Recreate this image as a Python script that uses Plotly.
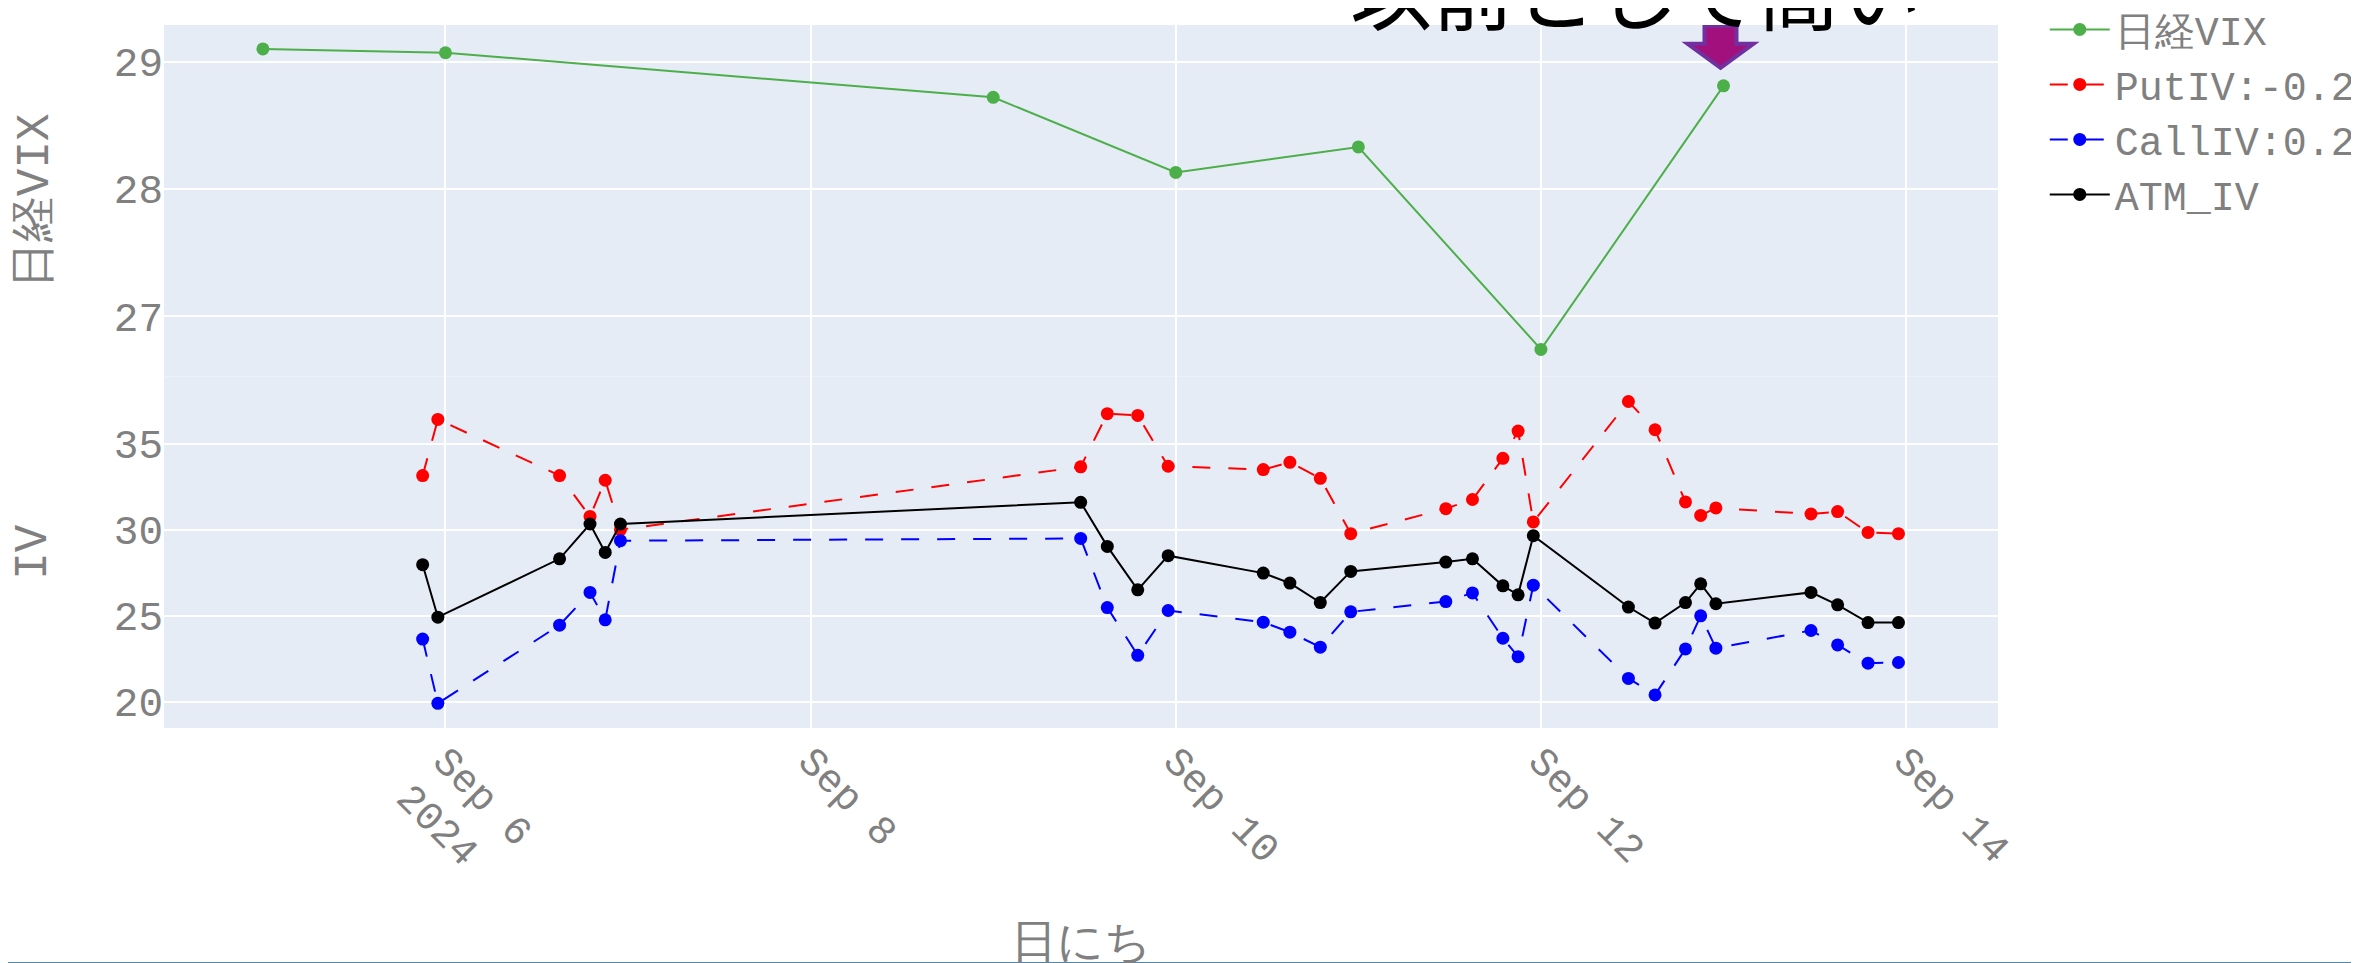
import plotly.graph_objects as go
from plotly.subplots import make_subplots

# ---- data ----
vix_dates = ['2024-09-05', '2024-09-06', '2024-09-09', '2024-09-10',
             '2024-09-11', '2024-09-12', '2024-09-13']
vix_values = [29.10, 29.07, 28.72, 28.13, 28.33, 26.74, 28.81]

iv_times = ['2024-09-05 21:00', '2024-09-05 23:00',
            '2024-09-06 15:00', '2024-09-06 19:00', '2024-09-06 21:00', '2024-09-06 23:00',
            '2024-09-09 11:30', '2024-09-09 15:00', '2024-09-09 19:00', '2024-09-09 23:00',
            '2024-09-10 11:30', '2024-09-10 15:00', '2024-09-10 19:00', '2024-09-10 23:00',
            '2024-09-11 11:30', '2024-09-11 15:00', '2024-09-11 19:00', '2024-09-11 21:00', '2024-09-11 23:00',
            '2024-09-12 11:30', '2024-09-12 15:00', '2024-09-12 19:00', '2024-09-12 21:00', '2024-09-12 23:00',
            '2024-09-13 11:30', '2024-09-13 15:00', '2024-09-13 19:00', '2024-09-13 23:00']
put_iv = [33.14, 36.40, 33.14, 30.77, 32.87, 30.00,
          33.65, 36.73, 36.63, 33.68,
          33.49, 33.91, 32.98, 29.77,
          31.22, 31.75, 34.14, 35.72, 30.45,
          37.44, 35.80, 31.61, 30.83, 31.26,
          30.91, 31.05, 29.84, 29.77]
call_iv = [23.65, 19.92, 24.46, 26.36, 24.77, 29.36,
           29.49, 25.48, 22.71, 25.31,
           24.63, 24.05, 23.18, 25.23,
           25.83, 26.33, 23.70, 22.63, 26.78,
           21.37, 20.41, 23.08, 25.00, 23.12,
           24.15, 23.31, 22.25, 22.29]
atm_iv = [27.97, 24.92, 28.31, 30.33, 28.68, 30.33,
          31.59, 29.03, 26.51, 28.49,
          27.48, 26.90, 25.77, 27.58,
          28.12, 28.31, 26.74, 26.22, 29.65,
          25.51, 24.58, 25.77, 26.86, 25.70,
          26.36, 25.64, 24.61, 24.61]

series_names = ['日経VIX', 'PutIV:-0.2', 'CallIV:0.2', 'ATM_IV']
annotation_text = '以前として高い'
x_title = '日にち'
y_titles = ['日経VIX', 'IV']

FONT = 'Courier New, Liberation Mono, monospace'
GRAY = '#808080'

fig = make_subplots(rows=2, cols=1, shared_xaxes=True, vertical_spacing=0)

fig.add_trace(go.Scatter(x=vix_dates, y=vix_values, name=series_names[0], mode='lines+markers',
                         line=dict(color='#4daf4a', width=2), marker=dict(size=13)), row=1, col=1)
fig.add_trace(go.Scatter(x=iv_times, y=put_iv, name=series_names[1], mode='lines+markers',
                         line=dict(color='red', width=2, dash='18px,18px'), marker=dict(size=13)), row=2, col=1)
fig.add_trace(go.Scatter(x=iv_times, y=call_iv, name=series_names[2], mode='lines+markers',
                         line=dict(color='blue', width=2, dash='18px,18px'), marker=dict(size=13)), row=2, col=1)
fig.add_trace(go.Scatter(x=iv_times, y=atm_iv, name=series_names[3], mode='lines+markers',
                         line=dict(color='black', width=2), marker=dict(size=13)), row=2, col=1)

xr = ['2024-09-04 11:00', '2024-09-14 12:05']
fig.update_xaxes(range=xr, gridcolor='white', gridwidth=2, tick0='2024-09-06', dtick=2 * 86400000,
                 tickangle=45, tickfont=dict(size=40, color=GRAY, family=FONT))
fig.update_xaxes(title=dict(text=x_title, font=dict(size=46, color=GRAY), standoff=55), row=2, col=1)
fig.update_yaxes(range=[26.527, 29.288], dtick=1, gridcolor='white', gridwidth=2,
                 tickfont=dict(size=41, color=GRAY, family=FONT),
                 title=dict(text=y_titles[0], font=dict(size=46, color=GRAY, family=FONT), standoff=50),
                 row=1, col=1)
fig.update_yaxes(range=[18.49, 38.89], dtick=5, gridcolor='white', gridwidth=2,
                 tickfont=dict(size=41, color=GRAY, family=FONT),
                 title=dict(text=y_titles[1], font=dict(size=46, color=GRAY, family=FONT), standoff=53),
                 row=2, col=1)

fig.add_annotation(text=annotation_text, xref='paper', yref='paper', x=0.8026, y=1.052,
                   xanchor='center', yanchor='middle', showarrow=False,
                   font=dict(size=82, color='black', family='Noto Sans CJK JP'))

# block arrow pointing at the last 日経VIX point
fig.add_shape(type='path', xref='x', yref='y', xsizemode='pixel', ysizemode='pixel',
              xanchor=vix_dates[-1], yanchor=vix_values[-1],
              path='M -3,18 L 30,42 L 13,42 L 13,60 L -19,60 L -19,42 L -36,42 Z',
              fillcolor='#a2107d', line=dict(color='#7030a0', width=4), layer='above')

# thin dark rule along the bottom edge of the page
fig.add_shape(type='line', xref='paper', yref='paper', x0=-0.09, x1=1.21, y0=-0.3345, y1=-0.3345,
              line=dict(color='#1b5e8c', width=2))

fig.update_layout(
    width=2359, height=963,
    margin=dict(l=156, r=369, t=17, b=243, autoexpand=False),
    font=dict(family=FONT, color=GRAY, size=40),
    plot_bgcolor='#E5ECF6', paper_bgcolor='white',
    legend=dict(x=1.0255, y=1.04, xanchor='left', yanchor='top', font=dict(size=40, color=GRAY),
                itemwidth=60),
    showlegend=True,
)

fig.write_html('out.html')
